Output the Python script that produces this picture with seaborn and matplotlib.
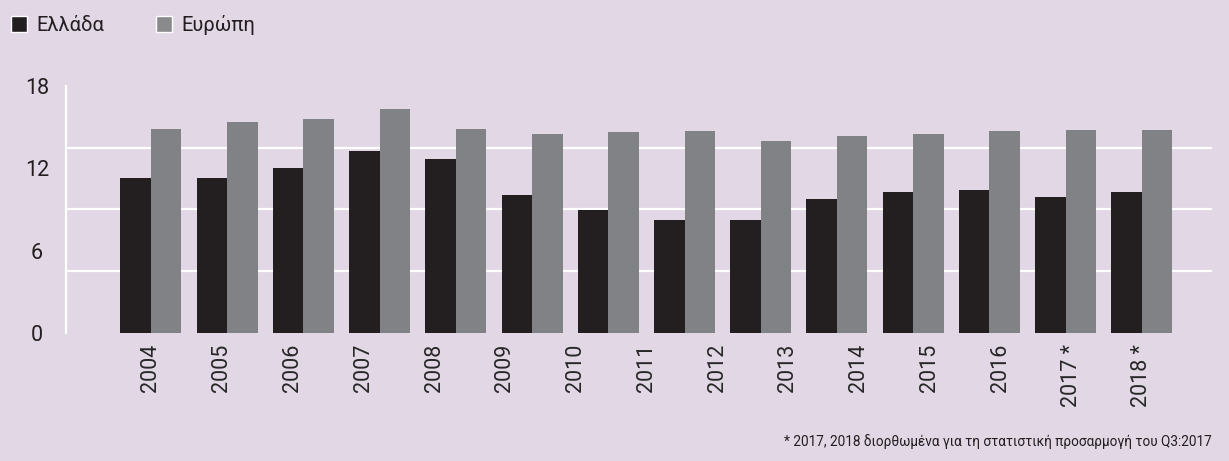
import numpy as np
import pandas as pd
import seaborn as sns
import matplotlib.pyplot as plt
from matplotlib.patches import Patch
from matplotlib.ticker import MultipleLocator

# values (14 bar groups, 15 year labels as in the source)
groups = list(range(14))
greece = [11.3, 11.3, 12.0, 13.25, 12.7, 10.05, 8.95, 8.25, 8.25, 9.75, 10.25, 10.4, 9.9, 10.25]
europe = [14.9, 15.35, 15.6, 16.3, 14.9, 14.5, 14.65, 14.7, 14.0, 14.35, 14.5, 14.7, 14.8, 14.8]
year_labels = ['2004', '2005', '2006', '2007', '2008', '2009', '2010', '2011',
               '2012', '2013', '2014', '2015', '2016', '2017 *', '2018 *']
series_names = ['Ελλάδα', 'Ευρώπη']
footnote = '* 2017, 2018 διορθωμένα για τη στατιστική προσαρμογή του Q3:2017'

bg = '#e1d7e5'
colors = ['#231f20', '#808285']

df = pd.DataFrame({
    'group': groups * 2,
    'value': greece + europe,
    'series': [series_names[0]] * len(groups) + [series_names[1]] * len(groups),
})

sns.set_style('white')
plt.rcParams['font.family'] = ['Roboto', 'DejaVu Sans']
plt.rcParams['text.color'] = '#231f20'

fig = plt.figure(figsize=(12.29, 4.61), dpi=100, facecolor=bg)
ax = fig.add_axes([66 / 1229, 1 - 333 / 461, (1212 - 66) / 1229, (333 - 86) / 461])
ax.set_facecolor(bg)

sns.barplot(data=df, x='group', y='value', hue='series', palette=colors,
            width=0.8, saturation=1, linewidth=0, ax=ax, legend=False, zorder=3)

ax.set_ylim(0, 18)
ax.set_xlim(-1.115, 13.92)

# white grid every 4.5, labels every 6
ax.yaxis.set_major_locator(MultipleLocator(6))
ax.yaxis.set_minor_locator(MultipleLocator(4.5))
ax.grid(False)
ax.grid(which='minor', axis='y', color='white', linewidth=1.6, zorder=0)
ax.tick_params(axis='y', which='both', length=0, labelsize=15.5, pad=21, colors='#231f20')
for lab in ax.get_yticklabels():
    lab.set_horizontalalignment('center')

ax.set_xticks(np.linspace(0, 13, len(year_labels)))
ax.set_xticklabels(year_labels, rotation=90, fontsize=15.5, va='top', ha='center')
ax.tick_params(axis='x', length=0, pad=8)

for s in ['top', 'right', 'bottom']:
    ax.spines[s].set_visible(False)
ax.spines['left'].set_color('white')
ax.spines['left'].set_linewidth(1.6)
ax.set_xlabel('')
ax.set_ylabel('')

handles = [Patch(facecolor=colors[0]), Patch(facecolor='#8a8a8d')]
fig.legend(handles, series_names, loc='center left', bbox_to_anchor=(-0.006, 1 - 25 / 461),
           ncol=2, frameon=False, fontsize=14.5, handlelength=0.8, handleheight=0.8,
           handletextpad=0.45, columnspacing=2.6)

fig.text(1212 / 1229, 1 - 442 / 461, footnote, ha='right', va='center', fontsize=9.8)

fig.savefig('out.png', dpi=100, facecolor=bg)
